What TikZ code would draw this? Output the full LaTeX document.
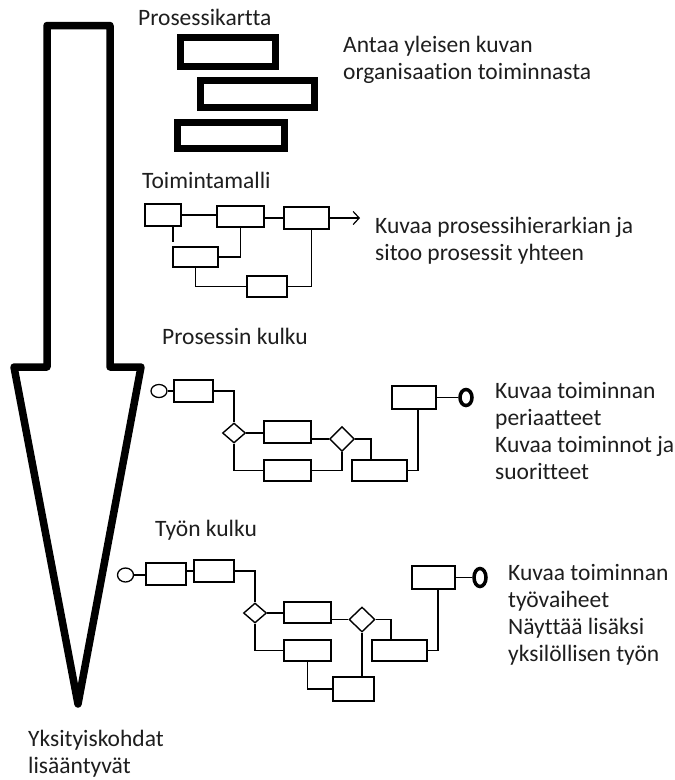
\documentclass[tikz,border=0pt]{standalone}
\usepackage{fontspec}
\setmainfont{Carlito}[Ligatures={NoCommon}]
\usetikzlibrary{shapes.geometric,arrows.meta}
\definecolor{txt}{HTML}{1E1E1E}
\newcommand\pbx[5]{\node[pbox,minimum width={#4-#2},minimum height={#5-#3}] (#1) at ({(#2+#4)/2},{(#3+#5)/2}) {};}
\newcommand\tbx[5]{\node[thickbox,minimum width={#4-#2},minimum height={#5-#3}] (#1) at ({(#2+#4)/2},{(#3+#5)/2}) {};}
\begin{document}
\begin{tikzpicture}[x=1pt,y=-1pt,
  thickbox/.style={draw,line width=7pt,inner sep=0pt},
  pbox/.style={draw,line width=1.4pt,inner sep=0pt},
  gate/.style={diamond,draw,line width=1.4pt,inner sep=0pt},
  startc/.style={ellipse,draw,line width=1.3pt,inner sep=0pt},
  endc/.style={ellipse,draw,line width=3.5pt,inner sep=0pt},
  conn/.style={line width=1.4pt},
  bigarrow/.style={line width=7.5pt,line join=round},
  lbl/.style={font=\fontsize{23.5}{27}\selectfont, text=txt, inner sep=0pt, anchor=base west, align=left},
]
\fill[white] (0,0) rectangle (675,780);
\useasboundingbox (0,0) rectangle (675,780);

% big downward arrow
\draw[bigarrow] (47,25.5) -- (110,25.5) -- (110,367) -- (141,367) -- (78,704) -- (14,367) -- (47,367) -- cycle;
\node[lbl] (ytext) at (28,773) {Yksityiskohdat\\lisääntyvät};

% Prosessikartta
\node[lbl] (h1) at (138,25) {Prosessikartta};
\tbx{K1}{180}{37}{275}{66}
\tbx{K2}{200}{80}{314}{107}
\tbx{K3}{177}{122}{284}{148}
\node[lbl] (d1) at (343,79) {Antaa yleisen kuvan\\organisaation toiminnasta};

% Toimintamalli
\node[lbl] (h2) at (142,188) {Toimintamalli};
\pbx{B1}{145}{204}{181}{226}
\pbx{B2}{217}{206}{264}{227}
\pbx{B3}{284}{207}{329}{229}
\pbx{B4}{173}{247}{218}{267}
\pbx{B5}{247}{276}{287}{297}
\coordinate (atip) at (360,218);
\coordinate (stub) at (173,242);
\draw[conn] (B1.east) -- (B1.east -| B2.west);
\draw[conn] (B3.west -| B2.east) -- (B3.west);
\draw[conn,-{Straight Barb[length=6pt,width=13pt,line width=1.2pt]}] (B3.east) -- (B3.east -| atip);
\draw[conn] (stub |- B1.south) -- (stub);
\draw[conn] (B2.south) |- (B4.east);
\draw[conn] (B4.south) |- (B5.west);
\draw[conn] (B5.east) -| ([xshift=5pt]B3.south);
\node[lbl] (d2) at (375,260) {Kuvaa prosessihierarkian ja\\sitoo prosessit yhteen};

% Prosessin kulku
\node[lbl] (h3) at (162,344) {Prosessin kulku};
\node[startc,minimum width=16pt,minimum height=13pt] (S1) at (159,391) {};
\pbx{P1}{174}{380}{213}{402}
\node[gate,minimum width=23pt,minimum height=20pt] (D1) at (234,433) {};
\pbx{P2}{264}{421}{311}{443}
\pbx{P3}{264}{460}{311}{481}
\node[gate,minimum width=25pt,minimum height=25pt] (D2) at (342,439) {};
\pbx{P4}{352}{460}{407}{481}
\pbx{P5}{392}{386}{436}{409}
\node[endc,minimum width=12pt,minimum height=16pt] (E1) at (466,397.5) {};
\draw[conn] (S1.east) -- (P1.west);
\draw[conn] (P1.east) -| (D1.north);
\draw[conn] (D1.east) -- (D1.east -| P2.west);
\draw[conn] (D1.south) |- (P3.west);
\draw[conn] (P2.east |- D2.west) -- (D2.west);
\draw[conn] (P3.east) -| (D2.south);
\draw[conn] (D2.east) -| ([xshift=-8.5pt]P4.north);
\draw[conn] (P4.east) -| ([xshift=4pt]P5.south);
\draw[conn] (P5.east) -- (E1.west);
\node[lbl] (d3) at (495,479) {Kuvaa toiminnan\\periaatteet\\Kuvaa toiminnot ja\\suoritteet};

% Työn kulku
\node[lbl] (h4) at (155,536) {Työn kulku};
\node[startc,minimum width=16pt,minimum height=14pt] (S2) at (125.5,575) {};
\pbx{T1}{146}{563}{186}{585}
\pbx{T2}{194}{560}{234}{582}
\node[gate,minimum width=23pt,minimum height=20pt] (D3) at (255,613) {};
\pbx{T3}{284}{602}{331}{623}
\pbx{T4}{284}{640}{331}{661}
\node[gate,minimum width=26pt,minimum height=25pt] (D4) at (362,619.5) {};
\pbx{T5}{372}{640}{427}{661}
\pbx{T6}{333}{677}{374}{701}
\pbx{T7}{412}{566}{455}{589}
\node[endc,minimum width=12pt,minimum height=18pt] (E2) at (480,577.5) {};
\draw[conn] (S2.east) -- (S2.east -| T1.west);
\draw[conn] (T2.west -| T1.east) -- (T2.west);
\draw[conn] (T2.east) -| (D3.north);
\draw[conn] (D3.east) -- (D3.east -| T3.west);
\draw[conn] (D3.south) |- (T4.west);
\draw[conn] (T3.east |- D4.west) -- (D4.west);
\draw[conn] (D4.east) -| ([xshift=-8.5pt]T5.north);
\draw[conn] (T4.south) |- (T6.west);
\draw[conn] (D4.south) -- (D4.south |- T6.north);
\draw[conn] (T5.east) -| ([xshift=4.5pt]T7.south);
\draw[conn] (T7.east) -- (E2.west);
\node[lbl] (d4) at (508,661) {Kuvaa toiminnan\\työvaiheet\\Näyttää lisäksi\\yksilöllisen työn};
\end{tikzpicture}
\end{document}
